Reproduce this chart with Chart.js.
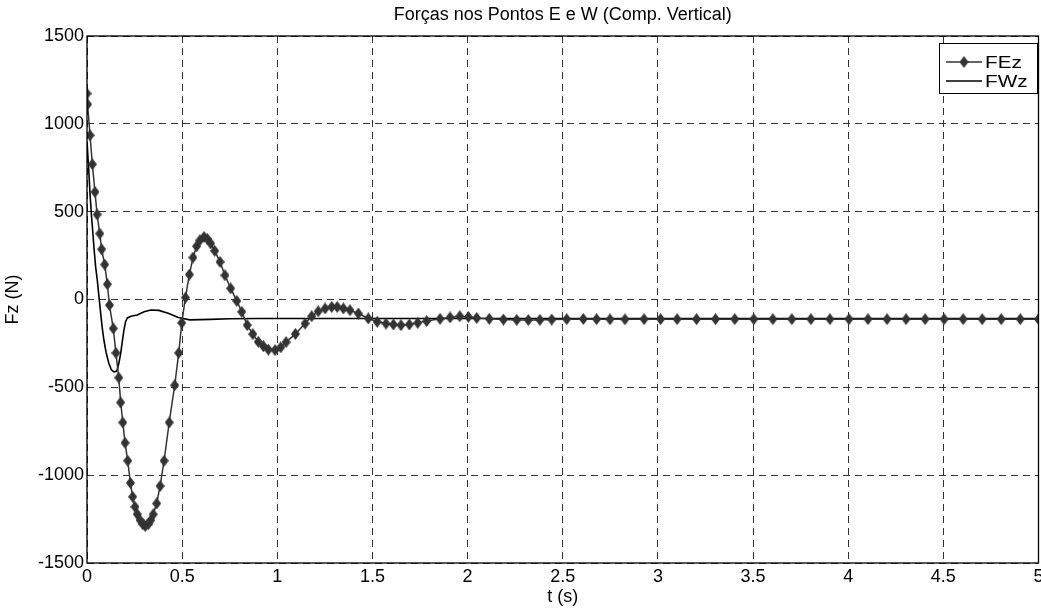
<!DOCTYPE html>
<html>
<head>
<meta charset="utf-8">
<script src="https://cdn.jsdelivr.net/npm/chart.js@4/dist/chart.umd.min.js"></script>
<style>
  html, body { margin: 0; padding: 0; background: #fff; }
  canvas { display: block; }
</style>
</head>
<body>
<canvas id="grafico" width="1041" height="610"></canvas>
<script>
'use strict';
/*-------------------------------------------------------*\
     Dados: forças verticais nos pontos E e W
\*-------------------------------------------------------*/
// FEz: passos do integrador (tempo em s, força em N)
var tempoFE = [
  0.000, 0.003, 0.016, 0.028, 0.042, 0.053, 0.067, 0.077, 0.093, 0.107,
  0.118, 0.138, 0.152, 0.167, 0.177, 0.188, 0.200, 0.214, 0.228, 0.240,
  0.252, 0.264, 0.279, 0.293, 0.306, 0.322, 0.335, 0.348, 0.366, 0.384,
  0.405, 0.432, 0.461, 0.482, 0.498, 0.517, 0.538, 0.557, 0.576, 0.593,
  0.615, 0.632, 0.650, 0.671, 0.699, 0.725, 0.755, 0.787, 0.813, 0.842,
  0.871, 0.900, 0.927, 0.953, 0.988, 1.018, 1.046, 1.095, 1.146, 1.181,
  1.215, 1.251, 1.286, 1.315, 1.347, 1.382, 1.426, 1.478, 1.525, 1.571,
  1.610, 1.650, 1.694, 1.738, 1.785, 1.855, 1.908, 1.959, 2.004, 2.048,
  2.114, 2.188, 2.258, 2.319, 2.380, 2.442, 2.521, 2.608, 2.678, 2.748,
  2.827, 2.927, 3.014, 3.101, 3.203, 3.303, 3.404, 3.504, 3.604, 3.704,
  3.804, 3.904, 4.004, 4.104, 4.204, 4.304, 4.404, 4.504, 4.604, 4.704,
  4.804, 4.904, 5.000
];
var forcaFE = [
  1172, 1111, 935, 770, 612, 484, 375, 286, 199, 87,
  -32, -165, -304, -445, -586, -700, -816, -918, -1044, -1123,
  -1180, -1222, -1256, -1279, -1290, -1279, -1256, -1223, -1161, -1062,
  -918, -700, -488, -304, -133, 11, 142, 239, 303, 337,
  356, 345, 319, 277, 214, 138, 63, -8, -70, -146,
  -197, -241, -266, -285, -288, -272, -243, -196, -137, -95,
  -67, -51, -42, -42, -51, -61, -80, -108, -127, -137,
  -142, -146, -142, -133, -123, -110, -102, -95, -99, -105,
  -110, -114, -116, -117, -116, -114, -112, -111, -112, -113,
  -113, -112, -112, -112, -112, -112, -112, -112, -112, -112,
  -112, -112, -112, -112, -112, -112, -112, -112, -112, -112,
  -112, -112, -112
];
// FWz: curva contínua, sem marcadores
var tempoFW = [
  0.000, 0.008, 0.016, 0.024, 0.030, 0.037, 0.045, 0.054, 0.063, 0.072,
  0.080, 0.089, 0.100, 0.115, 0.128, 0.142, 0.152, 0.159, 0.168, 0.177,
  0.186, 0.194, 0.203, 0.212, 0.230, 0.264, 0.300, 0.335, 0.378, 0.430,
  0.480, 0.540, 0.650, 0.750, 0.900, 5.000
];
var forcaFW = [
  900, 760, 600, 470, 390, 290, 190, 110, 15, -80,
  -160, -232, -300, -364, -400, -412, -410, -400, -360, -307,
  -235, -175, -125, -105, -95, -88, -70, -60, -62, -80,
  -102, -116, -113, -110, -108, -108
];
var rotulosSeries = ['FEz', 'FWz'];

/*-------------------------------------------------------*\
     Utilitários de desenho
\*-------------------------------------------------------*/
var FONTE = '"Liberation Sans", Arial, Helvetica, sans-serif';

// Losango no estilo do marcador 'd' do MATLAB
function criaLosango(larg, alt, cor) {
  var c = document.createElement('canvas');
  c.width = larg;
  c.height = alt;
  var g = c.getContext('2d');
  g.fillStyle = cor;
  g.beginPath();
  g.moveTo(larg / 2, 0);
  g.lineTo(larg, alt / 2);
  g.lineTo(larg / 2, alt);
  g.lineTo(0, alt / 2);
  g.closePath();
  g.fill();
  return c;
}
var losango = criaLosango(9, 12, '#333333');

function pares(ts, vs) {
  return ts.map(function(t, i) {
    return { x: t, y: vs[i] };
  });
}

// Moldura, título, rótulos dos eixos e legenda
var pluginMoldura = {
  id: 'moldura',
  afterDatasetsDraw: function(chart) {
    var ctx = chart.ctx;
    var a = chart.chartArea;
    ctx.save();
    ctx.strokeStyle = '#000';
    ctx.lineWidth = 1.3;
    ctx.strokeRect(a.left, a.top, a.right - a.left, a.bottom - a.top);

    ctx.fillStyle = '#000';
    ctx.font = '18px ' + FONTE;
    ctx.textAlign = 'center';
    ctx.textBaseline = 'middle';
    ctx.fillText('Forças nos Pontos E e W (Comp. Vertical)', (a.left + a.right) / 2, 15);
    ctx.fillText('t (s)', (a.left + a.right) / 2, 597);
    ctx.translate(13, (a.top + a.bottom) / 2);
    ctx.rotate(-Math.PI / 2);
    ctx.fillText('Fz (N)', 0, 0);
    ctx.restore();

    // legenda
    var lx = 939, ly = 43, lw = 98, lh = 50;
    ctx.save();
    ctx.fillStyle = '#fff';
    ctx.fillRect(lx, ly, lw, lh);
    ctx.strokeStyle = '#000';
    ctx.lineWidth = 1;
    ctx.strokeRect(lx + 0.5, ly + 0.5, lw, lh);
    var linhas = [62, 81];
    var cores = ['#333333', '#000000'];
    for (var i = 0; i < 2; i++) {
      ctx.strokeStyle = cores[i];
      ctx.lineWidth = 1.5;
      ctx.beginPath();
      ctx.moveTo(946, linhas[i]);
      ctx.lineTo(982, linhas[i]);
      ctx.stroke();
      if (i === 0) {
        ctx.drawImage(losango, 964 - losango.width / 2, linhas[i] - losango.height / 2);
      }
      // texto um pouco mais largo, como no original
      ctx.save();
      ctx.translate(985, linhas[i] + 1);
      ctx.scale(1.22, 1);
      ctx.font = '17px ' + FONTE;
      ctx.textAlign = 'left';
      ctx.textBaseline = 'middle';
      ctx.fillStyle = '#000';
      ctx.fillText(rotulosSeries[i], 0, 0);
      ctx.restore();
    }
    ctx.restore();
  }
};

/*-------------------------------------------------------*\
     Criação do gráfico
\*-------------------------------------------------------*/
var eixoComum = {
  type: 'linear',
  grid: {
    color: '#333333',
    lineWidth: 1,
    drawTicks: false
  },
  border: { display: false, dash: [7, 5] },
  ticks: {
    color: '#000',
    font: { family: FONTE, size: 18 },
    callback: function(v) {
      return String(v);
    }
  }
};

var grafico = new Chart(document.getElementById('grafico').getContext('2d'), {
  type: 'line',
  data: {
    datasets: [{
      label: rotulosSeries[0],
      data: pares(tempoFE, forcaFE),
      borderColor: '#333333',
      borderWidth: 1.5,
      pointStyle: losango,
      pointRadius: 1,
      tension: 0
    }, {
      label: rotulosSeries[1],
      data: pares(tempoFW, forcaFW),
      borderColor: '#000000',
      borderWidth: 1.6,
      pointRadius: 0,
      tension: 0
    }]
  },
  options: {
    responsive: false,
    animation: false,
    devicePixelRatio: 1,
    layout: { autoPadding: false, padding: { top: 36, right: 2.5, left: 0, bottom: 0 } },
    plugins: {
      legend: { display: false },
      title: { display: false },
      tooltip: { enabled: false }
    },
    scales: {
      x: Object.assign({}, eixoComum, {
        min: 0,
        max: 5,
        ticks: Object.assign({}, eixoComum.ticks, { stepSize: 0.5, padding: 3, maxRotation: 0 }),
        afterFit: function(s) {
          s.height = 47;
          s.paddingLeft = 0;
          s.paddingRight = 0;
        }
      }),
      y: Object.assign({}, eixoComum, {
        min: -1500,
        max: 1500,
        ticks: Object.assign({}, eixoComum.ticks, { stepSize: 500, padding: 3 }),
        afterFit: function(s) {
          s.width = 87;
        }
      })
    }
  },
  plugins: [pluginMoldura]
});
</script>
</body>
</html>
